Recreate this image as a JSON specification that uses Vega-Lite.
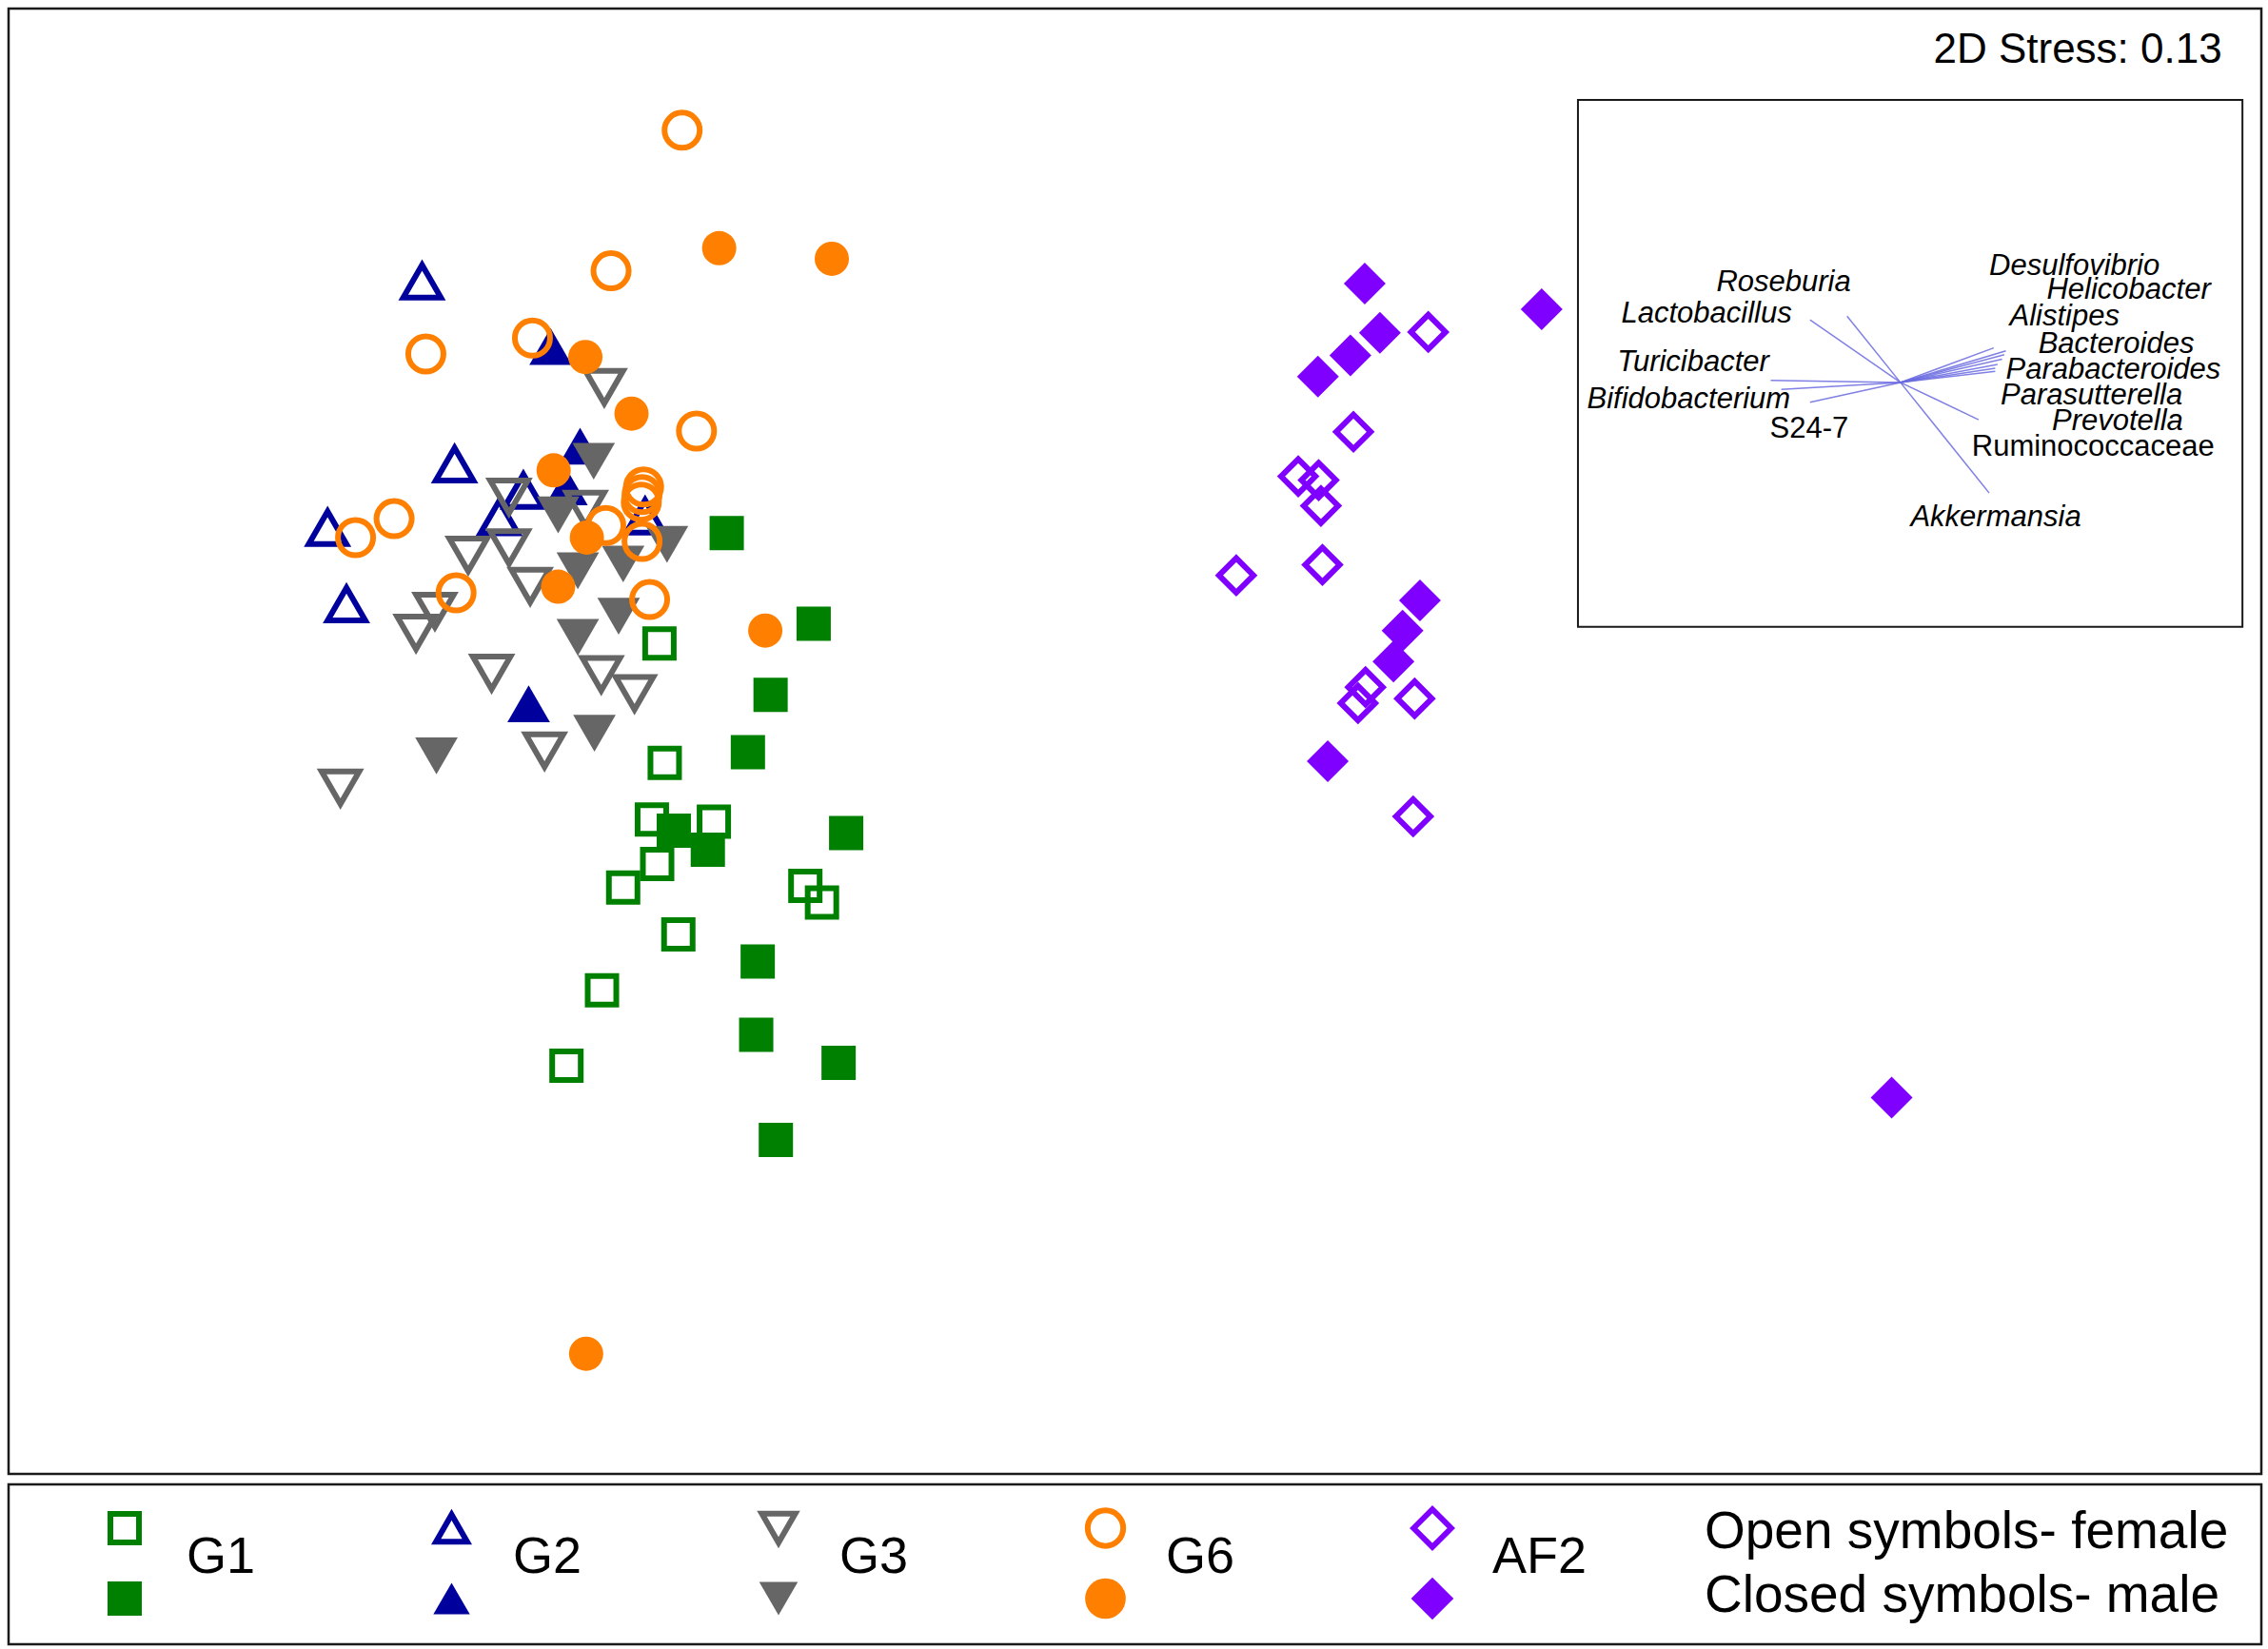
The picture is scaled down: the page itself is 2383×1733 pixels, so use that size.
{
  "$schema": "https://vega.github.io/schema/vega-lite/v6.json",
  "background": "white",
  "padding": {"left": 7, "top": 7, "right": 0, "bottom": 0},
  "autosize": {"type": "pad"},
  "spacing": 7,
  "config": {"view": {"stroke": "#1a1a1a", "strokeWidth": 2.5}},
  "datasets": {
    "points": [
      {"group":"G1","sex":"female","NMDS1":-0.630,"NMDS2":0.242},
      {"group":"G1","sex":"female","NMDS1":-0.623,"NMDS2":0.084},
      {"group":"G1","sex":"female","NMDS1":-0.640,"NMDS2":0.009},
      {"group":"G1","sex":"female","NMDS1":-0.558,"NMDS2":0.006},
      {"group":"G1","sex":"female","NMDS1":-0.633,"NMDS2":-0.050},
      {"group":"G1","sex":"female","NMDS1":-0.678,"NMDS2":-0.081},
      {"group":"G1","sex":"female","NMDS1":-0.437,"NMDS2":-0.079},
      {"group":"G1","sex":"female","NMDS1":-0.415,"NMDS2":-0.101},
      {"group":"G1","sex":"female","NMDS1":-0.605,"NMDS2":-0.143},
      {"group":"G1","sex":"female","NMDS1":-0.706,"NMDS2":-0.217},
      {"group":"G1","sex":"female","NMDS1":-0.753,"NMDS2":-0.317},
      {"group":"G1","sex":"male","NMDS1":-0.541,"NMDS2":0.388},
      {"group":"G1","sex":"male","NMDS1":-0.426,"NMDS2":0.268},
      {"group":"G1","sex":"male","NMDS1":-0.483,"NMDS2":0.174},
      {"group":"G1","sex":"male","NMDS1":-0.513,"NMDS2":0.098},
      {"group":"G1","sex":"male","NMDS1":-0.611,"NMDS2":-0.006},
      {"group":"G1","sex":"male","NMDS1":-0.566,"NMDS2":-0.031},
      {"group":"G1","sex":"male","NMDS1":-0.383,"NMDS2":-0.009},
      {"group":"G1","sex":"male","NMDS1":-0.500,"NMDS2":-0.179},
      {"group":"G1","sex":"male","NMDS1":-0.502,"NMDS2":-0.276},
      {"group":"G1","sex":"male","NMDS1":-0.393,"NMDS2":-0.313},
      {"group":"G1","sex":"male","NMDS1":-0.476,"NMDS2":-0.415},
      {"group":"G2","sex":"female","NMDS1":-0.944,"NMDS2":0.721},
      {"group":"G2","sex":"female","NMDS1":-0.901,"NMDS2":0.479},
      {"group":"G2","sex":"female","NMDS1":-1.069,"NMDS2":0.395},
      {"group":"G2","sex":"female","NMDS1":-1.044,"NMDS2":0.294},
      {"group":"G2","sex":"female","NMDS1":-0.810,"NMDS2":0.444},
      {"group":"G2","sex":"female","NMDS1":-0.842,"NMDS2":0.409},
      {"group":"G2","sex":"female","NMDS1":-0.649,"NMDS2":0.410},
      {"group":"G2","sex":"male","NMDS1":-0.774,"NMDS2":0.635},
      {"group":"G2","sex":"male","NMDS1":-0.735,"NMDS2":0.503},
      {"group":"G2","sex":"male","NMDS1":-0.753,"NMDS2":0.449},
      {"group":"G2","sex":"male","NMDS1":-0.803,"NMDS2":0.162},
      {"group":"G3","sex":"female","NMDS1":-0.703,"NMDS2":0.581},
      {"group":"G3","sex":"female","NMDS1":-0.829,"NMDS2":0.436},
      {"group":"G3","sex":"female","NMDS1":-0.728,"NMDS2":0.420},
      {"group":"G3","sex":"female","NMDS1":-0.883,"NMDS2":0.359},
      {"group":"G3","sex":"female","NMDS1":-0.829,"NMDS2":0.369},
      {"group":"G3","sex":"female","NMDS1":-0.801,"NMDS2":0.318},
      {"group":"G3","sex":"female","NMDS1":-0.927,"NMDS2":0.285},
      {"group":"G3","sex":"female","NMDS1":-0.952,"NMDS2":0.256},
      {"group":"G3","sex":"female","NMDS1":-0.852,"NMDS2":0.203},
      {"group":"G3","sex":"female","NMDS1":-0.707,"NMDS2":0.201},
      {"group":"G3","sex":"female","NMDS1":-0.663,"NMDS2":0.176},
      {"group":"G3","sex":"female","NMDS1":-0.782,"NMDS2":0.100},
      {"group":"G3","sex":"female","NMDS1":-1.052,"NMDS2":0.051},
      {"group":"G3","sex":"male","NMDS1":-0.717,"NMDS2":0.483},
      {"group":"G3","sex":"male","NMDS1":-0.764,"NMDS2":0.412},
      {"group":"G3","sex":"male","NMDS1":-0.738,"NMDS2":0.338},
      {"group":"G3","sex":"male","NMDS1":-0.678,"NMDS2":0.347},
      {"group":"G3","sex":"male","NMDS1":-0.620,"NMDS2":0.373},
      {"group":"G3","sex":"male","NMDS1":-0.684,"NMDS2":0.278},
      {"group":"G3","sex":"male","NMDS1":-0.738,"NMDS2":0.250},
      {"group":"G3","sex":"male","NMDS1":-0.716,"NMDS2":0.123},
      {"group":"G3","sex":"male","NMDS1":-0.925,"NMDS2":0.093},
      {"group":"G6","sex":"female","NMDS1":-0.600,"NMDS2":0.921},
      {"group":"G6","sex":"female","NMDS1":-0.694,"NMDS2":0.735},
      {"group":"G6","sex":"female","NMDS1":-0.939,"NMDS2":0.625},
      {"group":"G6","sex":"female","NMDS1":-0.798,"NMDS2":0.646},
      {"group":"G6","sex":"female","NMDS1":-0.581,"NMDS2":0.523},
      {"group":"G6","sex":"female","NMDS1":-0.651,"NMDS2":0.449},
      {"group":"G6","sex":"female","NMDS1":-0.653,"NMDS2":0.439},
      {"group":"G6","sex":"female","NMDS1":-0.654,"NMDS2":0.429},
      {"group":"G6","sex":"female","NMDS1":-1.032,"NMDS2":0.382},
      {"group":"G6","sex":"female","NMDS1":-0.981,"NMDS2":0.407},
      {"group":"G6","sex":"female","NMDS1":-0.701,"NMDS2":0.398},
      {"group":"G6","sex":"female","NMDS1":-0.653,"NMDS2":0.377},
      {"group":"G6","sex":"female","NMDS1":-0.899,"NMDS2":0.309},
      {"group":"G6","sex":"female","NMDS1":-0.643,"NMDS2":0.300},
      {"group":"G6","sex":"male","NMDS1":-0.551,"NMDS2":0.765},
      {"group":"G6","sex":"male","NMDS1":-0.402,"NMDS2":0.751},
      {"group":"G6","sex":"male","NMDS1":-0.728,"NMDS2":0.621},
      {"group":"G6","sex":"male","NMDS1":-0.667,"NMDS2":0.546},
      {"group":"G6","sex":"male","NMDS1":-0.770,"NMDS2":0.471},
      {"group":"G6","sex":"male","NMDS1":-0.726,"NMDS2":0.382},
      {"group":"G6","sex":"male","NMDS1":-0.764,"NMDS2":0.317},
      {"group":"G6","sex":"male","NMDS1":-0.490,"NMDS2":0.259},
      {"group":"G6","sex":"male","NMDS1":-0.727,"NMDS2":-0.698},
      {"group":"AF2","sex":"female","NMDS1":0.387,"NMDS2":0.654},
      {"group":"AF2","sex":"female","NMDS1":0.288,"NMDS2":0.522},
      {"group":"AF2","sex":"female","NMDS1":0.215,"NMDS2":0.463},
      {"group":"AF2","sex":"female","NMDS1":0.242,"NMDS2":0.458},
      {"group":"AF2","sex":"female","NMDS1":0.245,"NMDS2":0.424},
      {"group":"AF2","sex":"female","NMDS1":0.133,"NMDS2":0.332},
      {"group":"AF2","sex":"female","NMDS1":0.247,"NMDS2":0.346},
      {"group":"AF2","sex":"female","NMDS1":0.304,"NMDS2":0.184},
      {"group":"AF2","sex":"female","NMDS1":0.294,"NMDS2":0.163},
      {"group":"AF2","sex":"female","NMDS1":0.369,"NMDS2":0.169},
      {"group":"AF2","sex":"female","NMDS1":0.367,"NMDS2":0.013},
      {"group":"AF2","sex":"male","NMDS1":0.303,"NMDS2":0.718},
      {"group":"AF2","sex":"male","NMDS1":0.323,"NMDS2":0.653},
      {"group":"AF2","sex":"male","NMDS1":0.284,"NMDS2":0.623},
      {"group":"AF2","sex":"male","NMDS1":0.241,"NMDS2":0.595},
      {"group":"AF2","sex":"male","NMDS1":0.376,"NMDS2":0.299},
      {"group":"AF2","sex":"male","NMDS1":0.353,"NMDS2":0.259},
      {"group":"AF2","sex":"male","NMDS1":0.341,"NMDS2":0.218},
      {"group":"AF2","sex":"male","NMDS1":0.254,"NMDS2":0.086},
      {"group":"AF2","sex":"male","NMDS1":0.537,"NMDS2":0.684},
      {"group":"AF2","sex":"male","NMDS1":1.000,"NMDS2":-0.359}
    ],
    "taxa": [
      {"taxon":"Roseburia","vx":0.941,"vy":0.675,"lx":0.946,"ly":0.720},
      {"taxon":"Lactobacillus","vx":0.892,"vy":0.670,"lx":0.868,"ly":0.678},
      {"taxon":"Turicibacter","vx":0.840,"vy":0.590,"lx":0.838,"ly":0.613},
      {"taxon":"Bifidobacterium","vx":0.854,"vy":0.578,"lx":0.866,"ly":0.564},
      {"taxon":"S24-7","vx":0.892,"vy":0.561,"lx":0.943,"ly":0.526},
      {"taxon":"Desulfovibrio","vx":1.135,"vy":0.633,"lx":1.129,"ly":0.741},
      {"taxon":"Helicobacter","vx":1.151,"vy":0.629,"lx":1.205,"ly":0.709},
      {"taxon":"Alistipes","vx":1.149,"vy":0.624,"lx":1.156,"ly":0.674},
      {"taxon":"Bacteroides","vx":1.146,"vy":0.618,"lx":1.194,"ly":0.638},
      {"taxon":"Parabacteroides","vx":1.140,"vy":0.611,"lx":1.151,"ly":0.604},
      {"taxon":"Parasutterella","vx":1.137,"vy":0.606,"lx":1.144,"ly":0.570},
      {"taxon":"Prevotella","vx":1.137,"vy":0.602,"lx":1.212,"ly":0.535},
      {"taxon":"Ruminococcaceae","vx":1.115,"vy":0.538,"lx":1.106,"ly":0.502},
      {"taxon":"Akkermansia","vx":1.129,"vy":0.441,"lx":1.025,"ly":0.408}
    ],
    "legend": [
      {"group":"G1","row":"female"},{"group":"G1","row":"male"},
      {"group":"G2","row":"female"},{"group":"G2","row":"male"},
      {"group":"G3","row":"female"},{"group":"G3","row":"male"},
      {"group":"G6","row":"female"},{"group":"G6","row":"male"},
      {"group":"AF2","row":"female"},{"group":"AF2","row":"male"}
    ],
    "legendLabels": [
      {"group":"G1","row":"label"},{"group":"G2","row":"label"},{"group":"G3","row":"label"},{"group":"G6","row":"label"},{"group":"AF2","row":"label"}
    ],
    "notes": [
      {"note":"Open symbols- female","row":"female"},
      {"note":"Closed symbols- male","row":"male"}
    ]
  },
  "vconcat": [
    {
      "width": 2367,
      "height": 1540,
      "layer": [
        {"data":{"name":"points"},"transform":[{"filter":"datum.group==='G1' && datum.sex==='female'"}],
         "mark":{"type":"point","filled":false,"opacity":1,"strokeWidth":6,"size":900},
         "encoding":{"x":{"field":"NMDS1","type":"quantitative","scale":{"domain":[-1.491,1.489],"nice":false,"zero":false},"axis":null},
                     "y":{"field":"NMDS2","type":"quantitative","scale":{"domain":[-0.857,1.082],"nice":false,"zero":false},"axis":null},
                     "shape":{"field":"group","type":"nominal","scale":{"domain":["G1","G2","G3","G6","AF2"],"range":["square","triangle-up","triangle-down","circle","diamond"]},"legend":null},
                     "color":{"field":"group","type":"nominal","scale":{"domain":["G1","G2","G3","G6","AF2"],"range":["#008000","#00009c","#666666","#ff8000","#8000ff"]},"legend":null}}},
        {"data":{"name":"points"},"transform":[{"filter":"datum.group==='G1' && datum.sex==='male'"}],
         "mark":{"type":"point","filled":true,"opacity":1,"size":1296},
         "encoding":{"x":{"field":"NMDS1","type":"quantitative","scale":{"domain":[-1.491,1.489],"nice":false,"zero":false},"axis":null},
                     "y":{"field":"NMDS2","type":"quantitative","scale":{"domain":[-0.857,1.082],"nice":false,"zero":false},"axis":null},
                     "shape":{"field":"group","type":"nominal","scale":{"domain":["G1","G2","G3","G6","AF2"],"range":["square","triangle-up","triangle-down","circle","diamond"]},"legend":null},
                     "color":{"field":"group","type":"nominal","scale":{"domain":["G1","G2","G3","G6","AF2"],"range":["#008000","#00009c","#666666","#ff8000","#8000ff"]},"legend":null}}},
        {"data":{"name":"points"},"transform":[{"filter":"datum.group==='G2' && datum.sex==='female'"}],
         "mark":{"type":"point","filled":false,"opacity":1,"strokeWidth":6,"size":1560},
         "encoding":{"x":{"field":"NMDS1","type":"quantitative","scale":{"domain":[-1.491,1.489],"nice":false,"zero":false},"axis":null},
                     "y":{"field":"NMDS2","type":"quantitative","scale":{"domain":[-0.857,1.082],"nice":false,"zero":false},"axis":null},
                     "shape":{"field":"group","type":"nominal","scale":{"domain":["G1","G2","G3","G6","AF2"],"range":["square","triangle-up","triangle-down","circle","diamond"]},"legend":null},
                     "color":{"field":"group","type":"nominal","scale":{"domain":["G1","G2","G3","G6","AF2"],"range":["#008000","#00009c","#666666","#ff8000","#8000ff"]},"legend":null}}},
        {"data":{"name":"points"},"transform":[{"filter":"datum.group==='G2' && datum.sex==='male'"}],
         "mark":{"type":"point","filled":true,"opacity":1,"size":2000},
         "encoding":{"x":{"field":"NMDS1","type":"quantitative","scale":{"domain":[-1.491,1.489],"nice":false,"zero":false},"axis":null},
                     "y":{"field":"NMDS2","type":"quantitative","scale":{"domain":[-0.857,1.082],"nice":false,"zero":false},"axis":null},
                     "shape":{"field":"group","type":"nominal","scale":{"domain":["G1","G2","G3","G6","AF2"],"range":["square","triangle-up","triangle-down","circle","diamond"]},"legend":null},
                     "color":{"field":"group","type":"nominal","scale":{"domain":["G1","G2","G3","G6","AF2"],"range":["#008000","#00009c","#666666","#ff8000","#8000ff"]},"legend":null}}},
        {"data":{"name":"points"},"transform":[{"filter":"datum.group==='G3' && datum.sex==='female'"}],
         "mark":{"type":"point","filled":false,"opacity":1,"strokeWidth":6,"size":1560},
         "encoding":{"x":{"field":"NMDS1","type":"quantitative","scale":{"domain":[-1.491,1.489],"nice":false,"zero":false},"axis":null},
                     "y":{"field":"NMDS2","type":"quantitative","scale":{"domain":[-0.857,1.082],"nice":false,"zero":false},"axis":null},
                     "shape":{"field":"group","type":"nominal","scale":{"domain":["G1","G2","G3","G6","AF2"],"range":["square","triangle-up","triangle-down","circle","diamond"]},"legend":null},
                     "color":{"field":"group","type":"nominal","scale":{"domain":["G1","G2","G3","G6","AF2"],"range":["#008000","#00009c","#666666","#ff8000","#8000ff"]},"legend":null}}},
        {"data":{"name":"points"},"transform":[{"filter":"datum.group==='G3' && datum.sex==='male'"}],
         "mark":{"type":"point","filled":true,"opacity":1,"size":2000},
         "encoding":{"x":{"field":"NMDS1","type":"quantitative","scale":{"domain":[-1.491,1.489],"nice":false,"zero":false},"axis":null},
                     "y":{"field":"NMDS2","type":"quantitative","scale":{"domain":[-0.857,1.082],"nice":false,"zero":false},"axis":null},
                     "shape":{"field":"group","type":"nominal","scale":{"domain":["G1","G2","G3","G6","AF2"],"range":["square","triangle-up","triangle-down","circle","diamond"]},"legend":null},
                     "color":{"field":"group","type":"nominal","scale":{"domain":["G1","G2","G3","G6","AF2"],"range":["#008000","#00009c","#666666","#ff8000","#8000ff"]},"legend":null}}},
        {"data":{"name":"points"},"transform":[{"filter":"datum.group==='G6' && datum.sex==='female'"}],
         "mark":{"type":"point","filled":false,"opacity":1,"strokeWidth":6,"size":1369},
         "encoding":{"x":{"field":"NMDS1","type":"quantitative","scale":{"domain":[-1.491,1.489],"nice":false,"zero":false},"axis":null},
                     "y":{"field":"NMDS2","type":"quantitative","scale":{"domain":[-0.857,1.082],"nice":false,"zero":false},"axis":null},
                     "shape":{"field":"group","type":"nominal","scale":{"domain":["G1","G2","G3","G6","AF2"],"range":["square","triangle-up","triangle-down","circle","diamond"]},"legend":null},
                     "color":{"field":"group","type":"nominal","scale":{"domain":["G1","G2","G3","G6","AF2"],"range":["#008000","#00009c","#666666","#ff8000","#8000ff"]},"legend":null}}},
        {"data":{"name":"points"},"transform":[{"filter":"datum.group==='G6' && datum.sex==='male'"}],
         "mark":{"type":"point","filled":true,"opacity":1,"size":1296},
         "encoding":{"x":{"field":"NMDS1","type":"quantitative","scale":{"domain":[-1.491,1.489],"nice":false,"zero":false},"axis":null},
                     "y":{"field":"NMDS2","type":"quantitative","scale":{"domain":[-0.857,1.082],"nice":false,"zero":false},"axis":null},
                     "shape":{"field":"group","type":"nominal","scale":{"domain":["G1","G2","G3","G6","AF2"],"range":["square","triangle-up","triangle-down","circle","diamond"]},"legend":null},
                     "color":{"field":"group","type":"nominal","scale":{"domain":["G1","G2","G3","G6","AF2"],"range":["#008000","#00009c","#666666","#ff8000","#8000ff"]},"legend":null}}},
        {"data":{"name":"points"},"transform":[{"filter":"datum.group==='AF2' && datum.sex==='female'"}],
         "mark":{"type":"point","filled":false,"opacity":1,"strokeWidth":6,"size":1310},
         "encoding":{"x":{"field":"NMDS1","type":"quantitative","scale":{"domain":[-1.491,1.489],"nice":false,"zero":false},"axis":null},
                     "y":{"field":"NMDS2","type":"quantitative","scale":{"domain":[-0.857,1.082],"nice":false,"zero":false},"axis":null},
                     "shape":{"field":"group","type":"nominal","scale":{"domain":["G1","G2","G3","G6","AF2"],"range":["square","triangle-up","triangle-down","circle","diamond"]},"legend":null},
                     "color":{"field":"group","type":"nominal","scale":{"domain":["G1","G2","G3","G6","AF2"],"range":["#008000","#00009c","#666666","#ff8000","#8000ff"]},"legend":null}}},
        {"data":{"name":"points"},"transform":[{"filter":"datum.group==='AF2' && datum.sex==='male'"}],
         "mark":{"type":"point","filled":true,"opacity":1,"size":1936},
         "encoding":{"x":{"field":"NMDS1","type":"quantitative","scale":{"domain":[-1.491,1.489],"nice":false,"zero":false},"axis":null},
                     "y":{"field":"NMDS2","type":"quantitative","scale":{"domain":[-0.857,1.082],"nice":false,"zero":false},"axis":null},
                     "shape":{"field":"group","type":"nominal","scale":{"domain":["G1","G2","G3","G6","AF2"],"range":["square","triangle-up","triangle-down","circle","diamond"]},"legend":null},
                     "color":{"field":"group","type":"nominal","scale":{"domain":["G1","G2","G3","G6","AF2"],"range":["#008000","#00009c","#666666","#ff8000","#8000ff"]},"legend":null}}},
        {"data":{"values":[{"x1":0.585,"x2":1.464,"y1":0.264,"y2":0.961}]},
         "mark":{"type":"rect","fill":"white","stroke":"#1a1a1a","strokeWidth":2},
         "encoding":{"x":{"field":"x1","type":"quantitative","scale":{"domain":[-1.491,1.489],"nice":false,"zero":false},"axis":null},
                     "x2":{"field":"x2"},
                     "y":{"field":"y1","type":"quantitative","scale":{"domain":[-0.857,1.082],"nice":false,"zero":false},"axis":null},
                     "y2":{"field":"y2"}}},
        {"data":{"name":"taxa"},
         "mark":{"type":"rule","stroke":"#6a6ae0","strokeWidth":1.5,"opacity":0.85},
         "encoding":{"x":{"field":"vx","type":"quantitative","scale":{"domain":[-1.491,1.489],"nice":false,"zero":false},"axis":null},
                     "y":{"field":"vy","type":"quantitative","scale":{"domain":[-0.857,1.082],"nice":false,"zero":false},"axis":null},
                     "x2":{"datum":1.0115},
                     "y2":{"datum":0.5873}}},
        {"data":{"name":"taxa"},"transform":[{"filter":"datum.vx < 1.0115 && datum.taxon !== 'S24-7'"}],
         "mark":{"type":"text","align":"right","baseline":"middle","font":"Liberation Sans","fontSize":31,"fontStyle":"italic","color":"black"},
         "encoding":{"x":{"field":"lx","type":"quantitative","scale":{"domain":[-1.491,1.489],"nice":false,"zero":false},"axis":null},
                     "y":{"field":"ly","type":"quantitative","scale":{"domain":[-0.857,1.082],"nice":false,"zero":false},"axis":null},
                     "text":{"field":"taxon"}}},
        {"data":{"name":"taxa"},"transform":[{"filter":"datum.vx > 1.0115 && datum.taxon !== 'Ruminococcaceae'"}],
         "mark":{"type":"text","align":"left","baseline":"middle","font":"Liberation Sans","fontSize":31,"fontStyle":"italic","color":"black"},
         "encoding":{"x":{"field":"lx","type":"quantitative","scale":{"domain":[-1.491,1.489],"nice":false,"zero":false},"axis":null},
                     "y":{"field":"ly","type":"quantitative","scale":{"domain":[-0.857,1.082],"nice":false,"zero":false},"axis":null},
                     "text":{"field":"taxon"}}},
        {"data":{"name":"taxa"},"transform":[{"filter":"datum.taxon === 'S24-7'"}],
         "mark":{"type":"text","align":"right","baseline":"middle","font":"Liberation Sans","fontSize":31,"color":"black"},
         "encoding":{"x":{"field":"lx","type":"quantitative","scale":{"domain":[-1.491,1.489],"nice":false,"zero":false},"axis":null},
                     "y":{"field":"ly","type":"quantitative","scale":{"domain":[-0.857,1.082],"nice":false,"zero":false},"axis":null},
                     "text":{"field":"taxon"}}},
        {"data":{"name":"taxa"},"transform":[{"filter":"datum.taxon === 'Ruminococcaceae'"}],
         "mark":{"type":"text","align":"left","baseline":"middle","font":"Liberation Sans","fontSize":31,"color":"black"},
         "encoding":{"x":{"field":"lx","type":"quantitative","scale":{"domain":[-1.491,1.489],"nice":false,"zero":false},"axis":null},
                     "y":{"field":"ly","type":"quantitative","scale":{"domain":[-0.857,1.082],"nice":false,"zero":false},"axis":null},
                     "text":{"field":"taxon"}}},
        {"data":{"values":[{"label":"2D Stress: 0.13","x":1.437,"y":1.026}]},
         "mark":{"type":"text","align":"right","baseline":"middle","font":"Liberation Sans","fontSize":44,"color":"black"},
         "encoding":{"x":{"field":"x","type":"quantitative","scale":{"domain":[-1.491,1.489],"nice":false,"zero":false},"axis":null},
                     "y":{"field":"y","type":"quantitative","scale":{"domain":[-0.857,1.082],"nice":false,"zero":false},"axis":null},
                     "text":{"field":"label"}}}
      ]
    },
    {
      "width": 2367,
      "height": 168,
      "layer": [
        {"data":{"name":"legend"},"transform":[{"filter":"datum.row==='female'"}],
         "mark":{"type":"point","filled":false,"opacity":1,"strokeWidth":6},
         "encoding":{"x":{"field":"group","type":"nominal","sort":null,"scale":{"type":"point","domain":["G1","G2","G3","G6","AF2"],"range":[122,1496],"padding":0},"axis":null},
                     "y":{"field":"row","type":"nominal","scale":{"type":"point","domain":["female","male"],"range":[46,120],"padding":0},"axis":null},
                     "shape":{"field":"group","type":"nominal","scale":{"domain":["G1","G2","G3","G6","AF2"],"range":["square","triangle-up","triangle-down","circle","diamond"]},"legend":null},
                     "color":{"field":"group","type":"nominal","scale":{"domain":["G1","G2","G3","G6","AF2"],"range":["#008000","#00009c","#666666","#ff8000","#8000ff"]},"legend":null},
                     "size":{"field":"group","type":"nominal","scale":{"domain":["G1","G2","G3","G6","AF2"],"range":[900,1560,1560,1369,1310]},"legend":null}}},
        {"data":{"name":"legend"},"transform":[{"filter":"datum.row==='male'"}],
         "mark":{"type":"point","filled":true,"opacity":1},
         "encoding":{"x":{"field":"group","type":"nominal","sort":null,"scale":{"type":"point","domain":["G1","G2","G3","G6","AF2"],"range":[122,1496],"padding":0},"axis":null},
                     "y":{"field":"row","type":"nominal","scale":{"type":"point","domain":["female","male"],"range":[46,120],"padding":0},"axis":null},
                     "shape":{"field":"group","type":"nominal","scale":{"domain":["G1","G2","G3","G6","AF2"],"range":["square","triangle-up","triangle-down","circle","diamond"]},"legend":null},
                     "color":{"field":"group","type":"nominal","scale":{"domain":["G1","G2","G3","G6","AF2"],"range":["#008000","#00009c","#666666","#ff8000","#8000ff"]},"legend":null},
                     "size":{"field":"group","type":"nominal","scale":{"domain":["G1","G2","G3","G6","AF2"],"range":[1296,2000,2000,1296,1936]},"legend":null}}},
        {"data":{"name":"legendLabels"},
         "mark":{"type":"text","align":"left","baseline":"middle","font":"Liberation Sans","fontSize":54,"color":"black"},
         "encoding":{"x":{"field":"group","type":"nominal","sort":null,"scale":{"type":"point","domain":["G1","G2","G3","G6","AF2"],"range":[187,1559],"padding":0},"axis":null},
                     "y":{"field":"row","type":"nominal","scale":{"type":"point","domain":["label"],"range":[77,77],"padding":0},"axis":null},
                     "text":{"field":"group"}}},
        {"data":{"name":"notes"},
         "mark":{"type":"text","align":"left","baseline":"middle","font":"Liberation Sans","fontSize":55,"color":"black"},
         "encoding":{"x":{"field":"note","type":"nominal","sort":null,"scale":{"type":"point","domain":["Open symbols- female","Closed symbols- male"],"range":[1782,1782],"padding":0},"axis":null},
                     "y":{"field":"row","type":"nominal","scale":{"type":"point","domain":["female","male"],"range":[50,117],"padding":0},"axis":null},
                     "text":{"field":"note"}}}
      ],
      "resolve": {"scale": {"x": "independent", "y": "independent", "size": "independent"}}
    }
  ]
}
